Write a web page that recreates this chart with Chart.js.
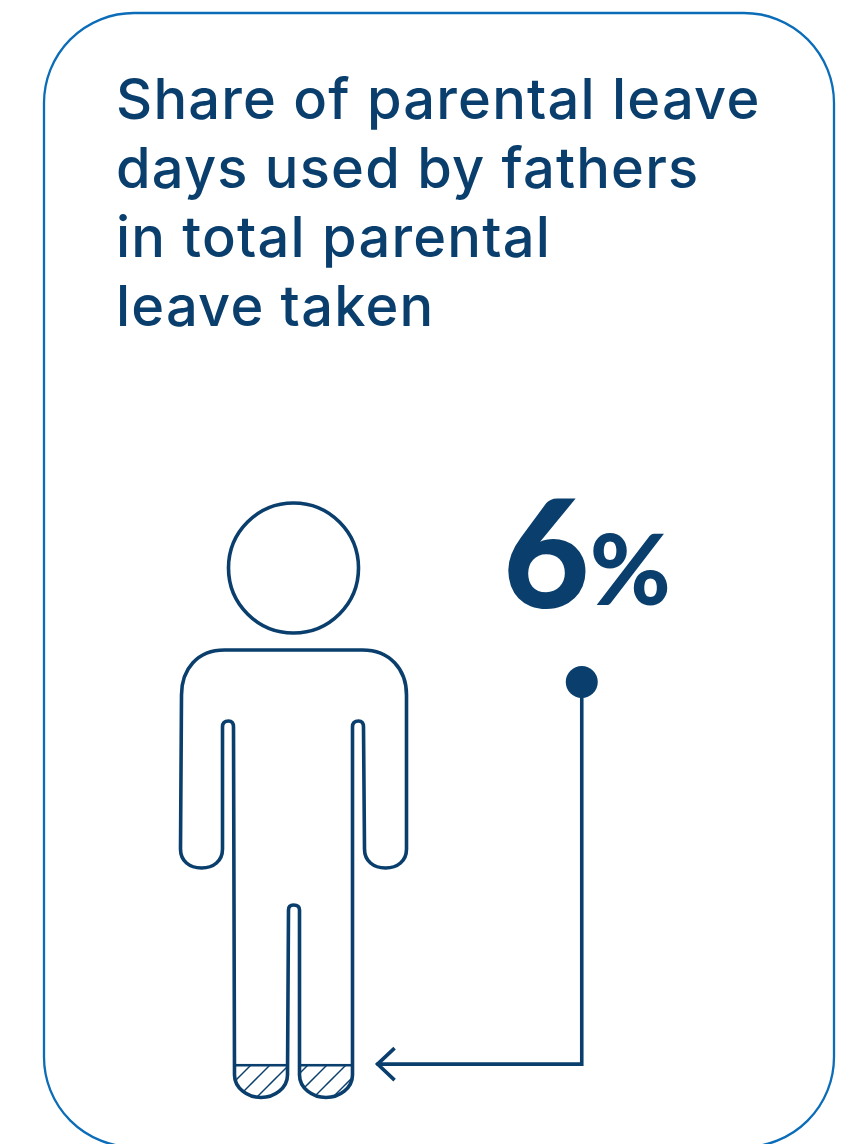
<!DOCTYPE html>
<html>
<head>
<meta charset="utf-8">
<style>
  html, body { margin: 0; padding: 0; background: #fff; }
  #wrap { width: 857px; height: 1144px; position: relative; overflow: hidden; }
</style>
<script src="https://cdn.jsdelivr.net/npm/chart.js@4/dist/chart.umd.min.js"></script>
</head>
<body>
<div id="wrap"><canvas id="c"></canvas></div>
<script>
const titleLines = ['Share of parental leave', 'days used by fathers', 'in total parental', 'leave taken'];
const fathersShare = [6];
const personCentre = [25];
const calloutX = [65.6, 65.6, 36.7];
const calloutY = [69.9, fathersShare[0], fathersShare[0]];

const INK = '#0a3f6d';
const CARD = '#0b6cb8';

// Diagonal hatch used to fill the father's share of the figure
function hatchPattern() {
  const t = document.createElement('canvas');
  const s = 19, p = 5;
  t.width = s; t.height = s;
  const g = t.getContext('2d');
  g.strokeStyle = INK; g.lineWidth = 1.5;
  for (const k of [p - s, p, p + s, p + 2 * s]) {
    g.beginPath(); g.moveTo(k + 2, -2); g.lineTo(k - s - 2, s + 2); g.stroke();
  }
  return document.createElement('canvas').getContext('2d').createPattern(t, 'repeat');
}

// Body outline, relative to the figure's centre line and foot level
function bodyPath(cx, by) {
  const X = d => cx + d, Y = d => by - 1 + d;
  const p = new Path2D();
  p.moveTo(X(-69), Y(-449));
  p.bezierCurveTo(X(-96), Y(-449), X(-112), Y(-430), X(-112), Y(-404));
  p.lineTo(X(-113), Y(-250));
  p.bezierCurveTo(X(-113), Y(-238), X(-104), Y(-231), X(-92), Y(-231));
  p.bezierCurveTo(X(-80), Y(-231), X(-71), Y(-238), X(-71), Y(-250));
  p.lineTo(X(-71), Y(-372));
  p.quadraticCurveTo(X(-71), Y(-378), X(-65), Y(-378));
  p.quadraticCurveTo(X(-60), Y(-378), X(-60), Y(-372));
  p.lineTo(X(-59), Y(-24));
  p.bezierCurveTo(X(-59), Y(-11), X(-46), Y(-1.5), X(-32.5), Y(-1.5));
  p.bezierCurveTo(X(-19), Y(-1.5), X(-6), Y(-11), X(-6), Y(-24));
  p.lineTo(X(-5), Y(-189));
  p.quadraticCurveTo(X(-5), Y(-194), X(0), Y(-194));
  p.quadraticCurveTo(X(6), Y(-194), X(6), Y(-189));
  p.lineTo(X(6), Y(-24));
  p.bezierCurveTo(X(6), Y(-11), X(19), Y(-1.5), X(32.5), Y(-1.5));
  p.bezierCurveTo(X(46), Y(-1.5), X(59), Y(-11), X(59), Y(-24));
  p.lineTo(X(59), Y(-372));
  p.quadraticCurveTo(X(59), Y(-378), X(65), Y(-378));
  p.quadraticCurveTo(X(70), Y(-378), X(70), Y(-372));
  p.lineTo(X(71), Y(-250));
  p.bezierCurveTo(X(71), Y(-238), X(80), Y(-231), X(92), Y(-231));
  p.bezierCurveTo(X(104), Y(-231), X(113), Y(-238), X(113), Y(-250));
  p.lineTo(X(113), Y(-404));
  p.bezierCurveTo(X(113), Y(-430), X(96), Y(-449), X(69), Y(-449));
  p.closePath();
  return p;
}

const figurePlugin = {
  id: 'figure',
  beforeDraw(chart) {
    const ctx = chart.ctx;
    ctx.letterSpacing = '1.2px';
    ctx.save();
    ctx.strokeStyle = CARD;
    ctx.lineWidth = 2.3;
    ctx.beginPath();
    ctx.roundRect(44, 13, 790, 1134, 90);
    ctx.stroke();
    ctx.restore();
  },
  beforeDatasetDraw(chart, args) {
    if (args.index !== 0) return;
    const { x, y } = chart.scales;
    chart.ctx.save();
    chart.ctx.clip(bodyPath(x.getPixelForValue(personCentre[0]), y.getPixelForValue(0)));
  },
  afterDatasetDraw(chart, args) {
    if (args.index === 0) chart.ctx.restore();
  },
  afterDatasetsDraw(chart) {
    const ctx = chart.ctx;
    const { x, y } = chart.scales;
    const cx = x.getPixelForValue(personCentre[0]);
    const by = y.getPixelForValue(0);
    ctx.save();
    ctx.strokeStyle = INK;
    ctx.lineWidth = 3.6;
    ctx.lineJoin = 'round';
    ctx.stroke(bodyPath(cx, by));
    ctx.beginPath();
    ctx.arc(cx, y.getPixelForValue(100) + 66, 65, 0, Math.PI * 2);
    ctx.stroke();

    // Arrow head at the end of the callout line
    const tip = chart.getDatasetMeta(1).data[2];
    ctx.lineCap = 'butt';
    ctx.lineJoin = 'miter';
    ctx.beginPath();
    ctx.moveTo(tip.x + 18, tip.y - 16);
    ctx.lineTo(tip.x + 1, tip.y);
    ctx.lineTo(tip.x + 18, tip.y + 16);
    ctx.stroke();

    // Value stated above the callout dot
    const dot = chart.getDatasetMeta(1).data[0];
    ctx.letterSpacing = '0px';
    ctx.fillStyle = INK;
    ctx.textBaseline = 'alphabetic';
    ctx.textAlign = 'left';
    ctx.font = '900 150px Lato';
    ctx.fillText(String(fathersShare[0]), dot.x - 79, dot.y - 74);
    ctx.font = '900 98px Lato';
    ctx.fillText('%', dot.x + 8, dot.y - 77);
    ctx.restore();
  }
};

new Chart(document.getElementById('c'), {
  type: 'bar',
  data: {
    datasets: [
      {
        label: 'Fathers',
        data: [{ x: personCentre[0], y: fathersShare[0] }],
        backgroundColor: hatchPattern(),
        borderColor: INK,
        borderWidth: { top: 2, left: 0, right: 0, bottom: 0 },
        borderSkipped: false,
        barThickness: 118
      },
      {
        type: 'scatter',
        label: 'Callout',
        data: calloutX.map((v, i) => ({ x: v, y: calloutY[i] })),
        showLine: true,
        borderColor: INK,
        borderWidth: 3.6,
        pointRadius: [16, 0, 0],
        pointBackgroundColor: INK,
        pointBorderWidth: 0,
        tension: 0
      }
    ]
  },
  options: {
    responsive: true,
    maintainAspectRatio: false,
    animation: false,
    layout: { padding: { left: 116, right: 31, top: 0, bottom: 44 } },
    plugins: {
      legend: { display: false },
      tooltip: { enabled: false },
      title: {
        display: true,
        text: titleLines,
        align: 'start',
        color: INK,
        font: { family: 'Inter', size: 56, weight: '500', lineHeight: 69 / 56 },
        padding: { top: 68, bottom: 158 }
      }
    },
    scales: {
      x: { type: 'linear', min: 0, max: 100, offset: false, display: false },
      y: { min: 0, max: 100, display: false }
    }
  },
  plugins: [figurePlugin]
});
</script>
</body>
</html>
